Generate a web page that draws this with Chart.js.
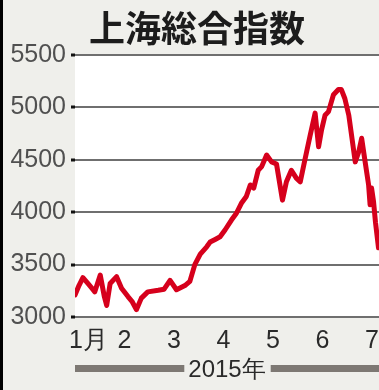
<!DOCTYPE html>
<html>
<head>
<meta charset="utf-8">
<script src="https://cdn.jsdelivr.net/npm/chart.js@4"></script>
<style>
  body { margin: 0; background: #efefeb; }
  #wrap { width: 379px; height: 390px; position: relative; }
</style>
</head>
<body>
<div id="wrap"><canvas id="grafico"></canvas></div>
<script>
// DATOS
var titulo = '上海総合指数';
var etiquetaAnio = '2015年';
var etiquetasMes = ['1月', '2', '3', '4', '5', '6', '7'];
var valoresY = [3000, 3500, 4000, 4500, 5000, 5500];
// posicion en meses desde el 1 de enero
var mesPos = [0.00, 0.08, 0.16, 0.26, 0.34, 0.40, 0.51, 0.59, 0.64, 0.71,
  0.84, 0.94, 1.07, 1.15, 1.24, 1.34, 1.47, 1.68, 1.80, 1.92,
  2.05, 2.22, 2.32, 2.42, 2.53, 2.66, 2.73, 2.83, 2.93, 3.03,
  3.16, 3.26, 3.36, 3.46, 3.54, 3.61, 3.70, 3.77, 3.87, 3.97,
  4.07, 4.19, 4.27, 4.37, 4.47, 4.55, 4.65, 4.75, 4.85, 4.92,
  4.98, 5.05, 5.12, 5.22, 5.32, 5.38, 5.45, 5.53, 5.59, 5.66,
  5.73, 5.79, 5.86, 5.93, 5.96, 5.99, 6.03, 6.07, 6.13];
var indice = [3210, 3300, 3375, 3320, 3275, 3240, 3400, 3200, 3110, 3320,
  3385, 3275, 3195, 3150, 3070, 3180, 3240, 3255, 3265, 3350,
  3260, 3300, 3340, 3500, 3600, 3670, 3715, 3740, 3765, 3830,
  3925, 3990, 4085, 4150, 4260, 4230, 4400, 4435, 4545, 4480,
  4460, 4115, 4290, 4400, 4325, 4290, 4515, 4735, 4945, 4625,
  4785, 4925, 4960, 5120, 5170, 5170, 5085, 4925, 4720, 4480,
  4575, 4705, 4480, 4260, 4070, 4230, 4100, 3900, 3660];

var puntos = mesPos.map(function (m, i) { return { x: m, y: indice[i] }; });

var fondo = '#efefeb';
var fuenteNum = '"Liberation Sans", Arial, sans-serif';
var fuenteCJK = '"Noto Sans CJK JP", "Noto Sans CJK SC", sans-serif';

// fondo, marco izquierdo, titulo, meses y barra del año
var decoracion = {
  id: 'decoracion',
  beforeDraw: function (chart) {
    var ctx = chart.ctx, a = chart.chartArea;
    ctx.save();
    ctx.fillStyle = fondo;
    ctx.fillRect(0, 0, chart.width, chart.height);
    ctx.fillStyle = '#ffffff';
    ctx.fillRect(a.left, a.top, a.right - a.left, a.bottom - a.top);
    ctx.restore();
  },
  afterDraw: function (chart) {
    var ctx = chart.ctx, a = chart.chartArea, xs = chart.scales.x;
    ctx.save();
    ctx.fillStyle = '#000';
    ctx.fillRect(0, 0, 3, chart.height);

    ctx.fillStyle = '#1c1c1c';
    ctx.font = 'bold 36px ' + fuenteCJK;
    ctx.textAlign = 'center';
    ctx.textBaseline = 'middle';
    ctx.fillText(titulo, 197, 28);

    ctx.fillStyle = '#2a2a2a';
    ctx.font = '25px ' + fuenteNum;
    etiquetasMes.forEach(function (t, i) {
      var px = xs.getPixelForValue(i);
      if (i === 0) {
        ctx.textAlign = 'left';
        ctx.fillText(t, px - 6, a.bottom + 24);
      } else {
        ctx.textAlign = 'center';
        ctx.fillText(t, px, a.bottom + 24);
      }
    });

    var cx = (a.left + a.right) / 2;
    ctx.font = '24px ' + fuenteNum;
    ctx.textAlign = 'center';
    ctx.fillText(etiquetaAnio, cx, a.bottom + 53);
    var w = ctx.measureText(etiquetaAnio).width;
    ctx.fillStyle = '#7d7873';
    ctx.fillRect(a.left, a.bottom + 48, cx - w / 2 - 4 - a.left, 7);
    ctx.fillRect(cx + w / 2 + 5, a.bottom + 48, a.right - (cx + w / 2 + 5), 7);
    ctx.restore();
  }
};

var config = {
  type: 'line',
  data: {
    datasets: [{
      label: titulo,
      data: puntos,
      borderColor: '#d6001c',
      borderWidth: 5,
      borderJoinStyle: 'round',
      borderCapStyle: 'round',
      pointRadius: 0,
      tension: 0
    }]
  },
  options: {
    responsive: true,
    maintainAspectRatio: false,
    animation: false,
    layout: { padding: { top: 55, right: 0, bottom: 0, left: 0 } },
    plugins: { legend: { display: false }, tooltip: { enabled: false } },
    scales: {
      x: {
        type: 'linear',
        min: 0,
        max: 6.14,
        afterFit: function (s) { s.height = 73; },
        afterBuildTicks: function (s) {
          s.ticks = etiquetasMes.map(function (t, i) { return { value: i }; });
        },
        ticks: { display: false },
        grid: { display: false },
        border: { display: false }
      },
      y: {
        min: 3000,
        max: 5500,
        afterFit: function (s) { s.width = 75; },
        afterBuildTicks: function (s) {
          s.ticks = valoresY.map(function (v) { return { value: v }; });
        },
        ticks: {
          color: '#505050',
          font: { family: fuenteNum, size: 25 },
          padding: 5,
          callback: function (v) { return String(v); }
        },
        grid: {
          color: '#6f6f6f',
          lineWidth: 2,
          tickLength: 4,
          tickColor: '#111',
          tickWidth: 3
        },
        border: { display: false }
      }
    }
  },
  plugins: [decoracion]
};

var miGrafico = new Chart(document.getElementById('grafico').getContext('2d'), config);
</script>
</body>
</html>
